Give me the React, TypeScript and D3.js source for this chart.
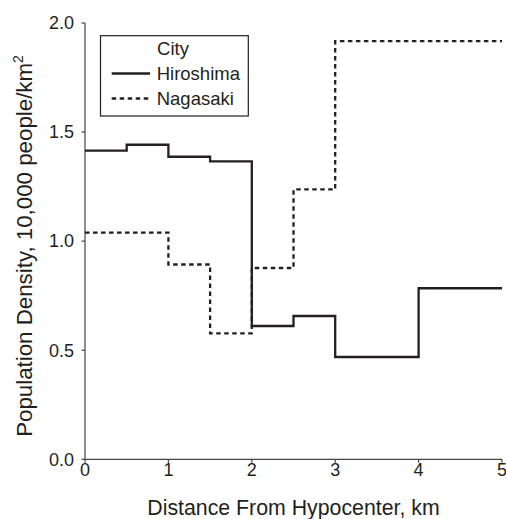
import React from "react";
import * as d3 from "d3";

const hiroshimaEdges = [0, 0.5, 1, 1.5, 2, 2.5, 3, 4, 5];
const hiroshimaValues = [1.415, 1.442, 1.387, 1.366, 0.611, 0.657, 0.469, 0.784];
const nagasakiEdges = [0, 1, 1.5, 2, 2.5, 3, 5];
const nagasakiValues = [1.039, 0.893, 0.577, 0.877, 1.237, 1.917];
const xTicks = [0, 1, 2, 3, 4, 5];
const yTicks = [0, 0.5, 1.0, 1.5, 2.0];
const cities = ["Hiroshima", "Nagasaki"];

const W = 506, H = 519;
const FONT = "'Liberation Sans', Arial, sans-serif";
const INK = "#231f20";

function stepPoints(edges: number[], values: number[]): [number, number][] {
  const pts: [number, number][] = values.map((v, i) => [edges[i], v]);
  pts.push([edges[edges.length - 1], values[values.length - 1]]);
  return pts;
}

export default function App() {
  const x = d3.scaleLinear().domain([0, 5]).range([85, 502]);
  const y = d3.scaleLinear().domain([0, 2]).range([459.3, 23]);
  const line = d3
    .line<[number, number]>()
    .x((d) => x(d[0]))
    .y((d) => y(d[1]))
    .curve(d3.curveStepAfter);

  const hPath = line(stepPoints(hiroshimaEdges, hiroshimaValues)) || "";
  const nPath = line(stepPoints(nagasakiEdges, nagasakiValues)) || "";
  const tickFs = 18;
  const legFs = 18.5;

  return (
    <svg
      width={W}
      height={H}
      style={{ position: "absolute", left: 0, top: 0, background: "#fff" }}
      fontFamily={FONT}
    >
      {/* axes */}
      <line x1={x(0)} x2={x(0)} y1={y(2)} y2={y(0)} stroke="#444" strokeWidth={1.2} />
      <line x1={x(0)} x2={x(5)} y1={y(0)} y2={y(0)} stroke="#444" strokeWidth={1.2} />
      {yTicks.map((t) => (
        <g key={"y" + t}>
          <line x1={x(0) - 3.5} x2={x(0)} y1={y(t)} y2={y(t)} stroke="#444" strokeWidth={1.2} />
          <text
            x={x(0) - 11}
            y={y(t)}
            dy="0.35em"
            textAnchor="end"
            fontSize={tickFs}
            fill={INK}
          >
            {d3.format(".1f")(t)}
          </text>
        </g>
      ))}
      {xTicks.map((t) => (
        <g key={"x" + t}>
          <line x1={x(t)} x2={x(t)} y1={y(0)} y2={y(0) + 3.5} stroke="#444" strokeWidth={1.2} />
          <text x={x(t)} y={476} textAnchor="middle" fontSize={tickFs} fill={INK}>
            {t}
          </text>
        </g>
      ))}
      <text x={293.5} y={515} textAnchor="middle" fontSize={21.3} fill={INK}>
        Distance From Hypocenter, km
      </text>
      <text
        transform={`translate(31.5, 246) rotate(-90)`}
        textAnchor="middle"
        fontSize={22.3}
        fill={INK}
      >
        Population Density, 10,000 people/km
        <tspan fontSize={14} dy={-9}>2</tspan>
      </text>

      {/* series */}
      <path d={hPath} fill="none" stroke={INK} strokeWidth={2.3} />
      <path d={nPath} fill="none" stroke={INK} strokeWidth={2.3} strokeDasharray="4.5,3.5" />

      {/* legend */}
      <rect x={100.5} y={35.7} width={147.8} height={80.3} fill="#fff" stroke={INK} strokeWidth={1.2} />
      <text x={173} y={55} textAnchor="middle" fontSize={legFs} fill={INK}>
        City
      </text>
      {cities.map((c, i) => (
        <g key={c}>
          <line
            x1={111.7}
            x2={150}
            y1={73.5 + i * 25}
            y2={73.5 + i * 25}
            stroke={INK}
            strokeWidth={2.3}
            strokeDasharray={i === 1 ? "4.5,3.5" : undefined}
          />
          <text x={156.7} y={79.5 + i * 25} fontSize={legFs} fill={INK}>
            {c}
          </text>
        </g>
      ))}
    </svg>
  );
}
